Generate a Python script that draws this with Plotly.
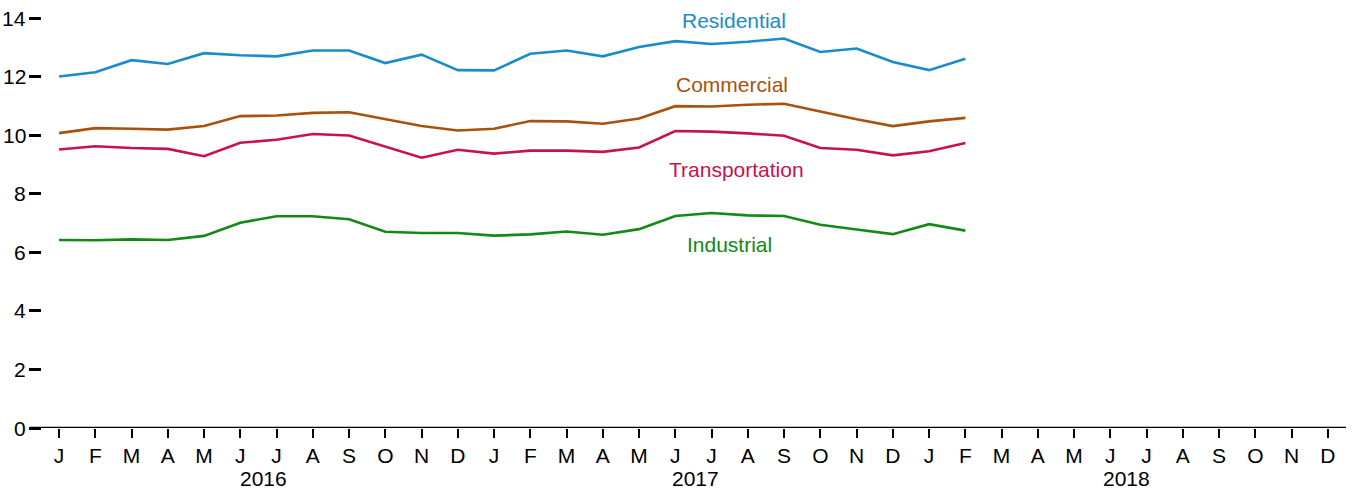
import plotly.graph_objects as go

# Monthly series, Jan 2016 - Feb 2018
months = list(range(26))
residential = [12.00, 12.15, 12.56, 12.43, 12.80, 12.73, 12.69, 12.89, 12.89, 12.46,
               12.75, 12.22, 12.21, 12.78, 12.89, 12.69, 13.01, 13.21, 13.11, 13.19,
               13.30, 12.84, 12.96, 12.50, 12.22, 12.61]
commercial = [10.07, 10.24, 10.22, 10.19, 10.31, 10.65, 10.67, 10.76, 10.78, 10.54,
              10.31, 10.16, 10.22, 10.48, 10.47, 10.39, 10.57, 10.99, 10.98, 11.04,
              11.07, 10.81, 10.54, 10.31, 10.47, 10.59]
transportation = [9.51, 9.62, 9.56, 9.53, 9.28, 9.74, 9.84, 10.04, 9.99, 9.61,
                  9.23, 9.50, 9.37, 9.47, 9.47, 9.43, 9.58, 10.14, 10.12, 10.06,
                  9.98, 9.56, 9.50, 9.31, 9.45, 9.73]
industrial = [6.42, 6.41, 6.44, 6.42, 6.56, 7.01, 7.23, 7.23, 7.13, 6.70,
              6.66, 6.66, 6.57, 6.61, 6.71, 6.60, 6.79, 7.24, 7.34, 7.26,
              7.24, 6.94, 6.78, 6.62, 6.96, 6.74]

month_letters = ["J", "F", "M", "A", "M", "J", "J", "A", "S", "O", "N", "D"] * 3
years = ["2016", "2017", "2018"]
y_ticks = [0, 2, 4, 6, 8, 10, 12, 14]

series = [
    ("Residential", residential, "#1a8bcb", 18.63, 13.90),
    ("Commercial", commercial, "#a8520e", 18.55, 11.74),
    ("Transportation", transportation, "#c8124f", 18.69, 8.84),
    ("Industrial", industrial, "#138a13", 18.49, 6.28),
]
year_label_x = [5.63, 17.55, 29.45]

FONT = "Liberation Sans, Arial, sans-serif"
FS = 21

fig = go.Figure()
for name, vals, color, lx, ly in series:
    fig.add_trace(go.Scatter(x=months, y=vals, mode="lines", name=name,
                             line=dict(color=color, width=2.6), showlegend=False))
    fig.add_annotation(x=lx, y=ly, text=name, showarrow=False,
                       font=dict(family=FONT, size=FS, color=color),
                       xanchor="center", yanchor="middle")

# year labels under the month letters
for yr, xpos in zip(years, year_label_x):
    fig.add_annotation(x=xpos, y=0, yref="paper", yshift=-50, text=yr,
                       showarrow=False, font=dict(family=FONT, size=FS, color="#000"),
                       xanchor="center", yanchor="middle")

# y tick labels set close to the tick marks
for v in y_ticks:
    fig.add_annotation(x=0, xref="paper", y=v, yref="y", xshift=-14, text=str(v),
                       showarrow=False, font=dict(family=FONT, size=FS, color="#000"),
                       xanchor="right", yanchor="middle")

# baseline running under the y tick marks
fig.add_shape(type="line", xref="paper", yref="y", x0=-0.0092, x1=1, y0=0, y1=0,
              line=dict(color="#000", width=2.5))

fig.update_layout(
    width=1354, height=489,
    margin=dict(l=42, r=8, t=18, b=61),
    plot_bgcolor="white", paper_bgcolor="white",
    font=dict(family=FONT, size=FS, color="#000"),
    xaxis=dict(range=[-0.47, 35.5], tickmode="array", tickvals=list(range(36)),
               ticktext=month_letters, ticks="outside", ticklen=9, tickwidth=2,
               tickcolor="#000", showgrid=False, zeroline=False, showline=False,
               tickfont=dict(size=FS), automargin=False),
    yaxis=dict(range=[0, 14], tickmode="array", tickvals=y_ticks,
               ticks="outside", ticklen=12, tickwidth=2.5, tickcolor="#000",
               showgrid=False, zeroline=False, showline=False,
               showticklabels=False, automargin=False),
)

fig.write_html("out.html")
